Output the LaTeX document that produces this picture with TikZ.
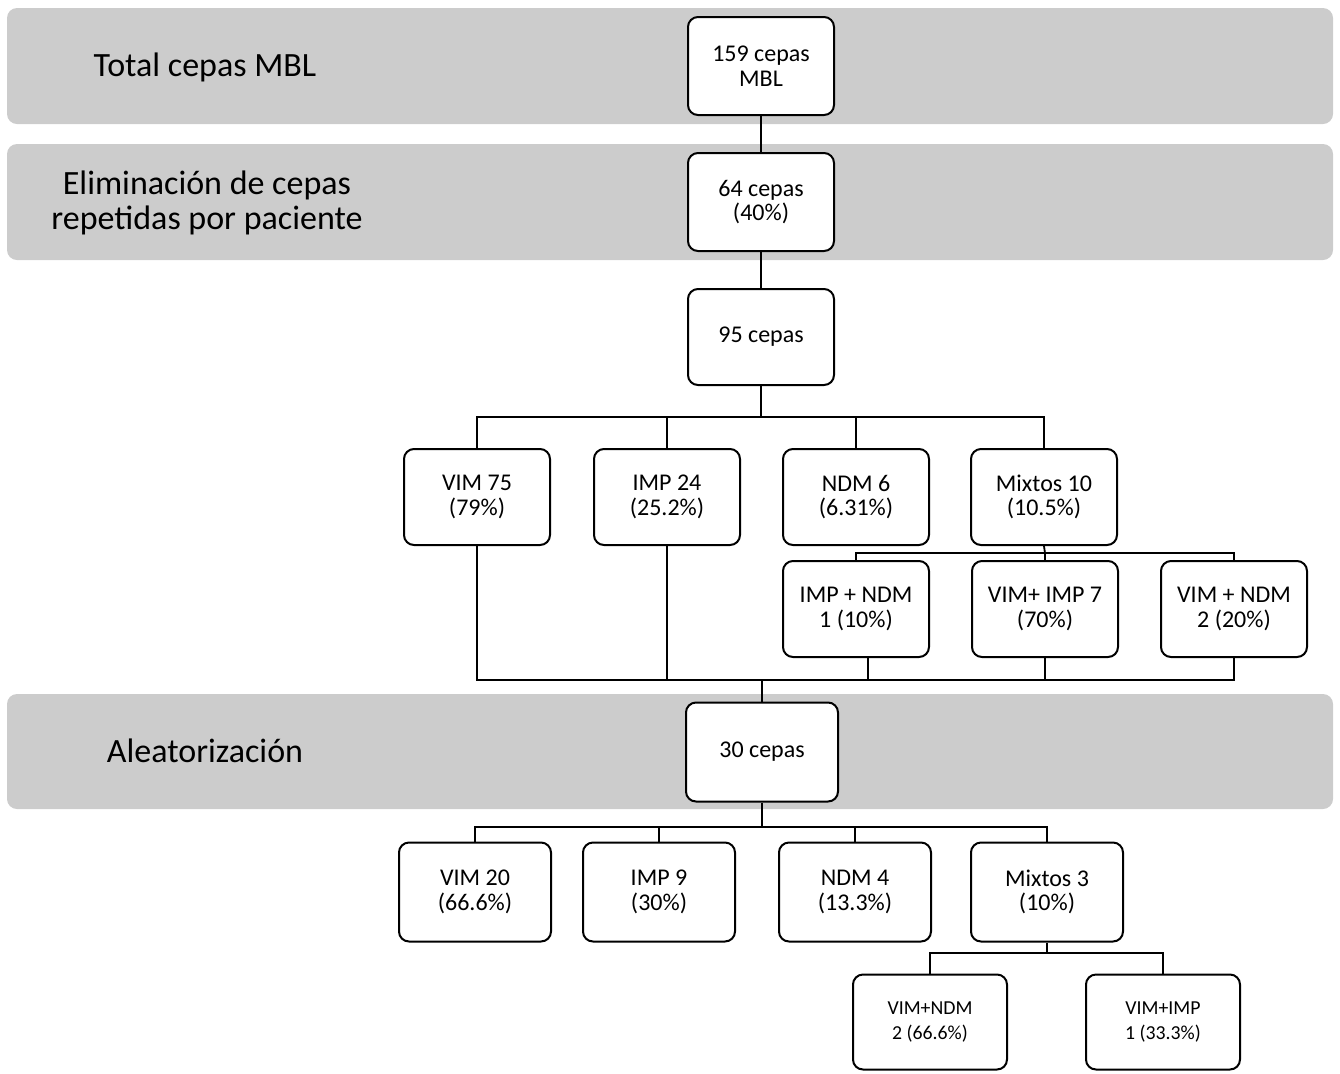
\documentclass[tikz,border=0pt]{standalone}
\usepackage{fontspec}
\setmainfont{Carlito}
\definecolor{bandgray}{RGB}{204,204,204}
\begin{document}
\begin{tikzpicture}[x=0.5pt,y=-0.5pt,
  band/.style={fill=bandgray, rounded corners=5pt},
  bandlabel/.style={align=center, font=\fontsize{17}{17.5}\selectfont},
  box/.style={draw=black, line width=1pt, fill=white, rounded corners=5pt,
    minimum width=73pt, minimum height=48pt, align=center, inner sep=1pt,
    font=\fontsize{12}{12.3}\selectfont},
  wbox/.style={box, minimum width=76pt, minimum height=49.5pt},
  sbox/.style={box, minimum width=77pt, minimum height=47.5pt,
    font=\fontsize{9.9}{12.6}\selectfont},
  conn/.style={draw=black, line width=0.9pt}]
\useasboundingbox (0,0) rectangle (1340,1073);
% bands
\fill[band] (7,8) rectangle (1333,124);
\fill[band] (7,144) rectangle (1333,260);
\fill[band] (7,694) rectangle (1333,809);
\node[bandlabel] (l1) at (205,67) {Total cepas MBL};
\node[bandlabel] (l2) at (207,203) {Eliminación de cepas\\repetidas por paciente};
\node[bandlabel] (l3) at (205,751) {Aleatorización};
% boxes
\node[box, minimum height=49pt] (b1) at (761,66) {159 cepas\\MBL};
\node[box, minimum height=49pt] (b2) at (761,202) {64 cepas\\(40\%)};
\node[box] (b3) at (761,337) {95 cepas};
\node[box] (v75) at (477,497) {VIM 75\\(79\%)};
\node[box] (i24) at (667,497) {IMP 24\\(25.2\%)};
\node[box] (n6) at (856,497) {NDM 6\\(6.31\%)};
\node[box] (m10) at (1044,497) {Mixtos 10\\(10.5\%)};
\node[box] (s1) at (856,609) {IMP + NDM\\1 (10\%)};
\node[box] (s2) at (1045,609) {VIM+ IMP 7\\(70\%)};
\node[box] (s3) at (1234,609) {VIM + NDM\\2 (20\%)};
\node[wbox] (c30) at (762,752) {30 cepas};
\node[wbox] (v20) at (475,892) {VIM 20\\(66.6\%)};
\node[wbox] (i9) at (659,892) {IMP 9\\(30\%)};
\node[wbox] (n4) at (855,892) {NDM 4\\(13.3\%)};
\node[wbox] (m3) at (1047,892) {Mixtos 3\\(10\%)};
\node[sbox] (t1) at (930,1022) {VIM+NDM\\2 (66.6\%)};
\node[sbox] (t2) at (1163,1022) {VIM+IMP\\1 (33.3\%)};
% junctions
\coordinate (j1) at (761,417);
\coordinate (j2) at (1045,553);
\coordinate (j3) at (762,680);
\coordinate (j4) at (762,827);
\coordinate (j5) at (1047,953);
% connectors
\draw[conn] (b1) -- (b2);
\draw[conn] (b2) -- (b3);
\draw[conn] (b3) -- (j1);
\draw[conn] (v75.north) |- (j1) -| (m10.north);
\draw[conn] (i24.north) -- (i24.north |- j1);
\draw[conn] (n6.north) -- (n6.north |- j1);
\draw[conn] (m10.south) -- (j2);
\draw[conn] (s1.north) |- (j2) -| (s3.north);
\draw[conn] (s2.north) -- (s2.north |- j2);
\draw[conn] (v75.south) |- (j3) -| (s3.south);
\draw[conn] (i24.south) -- (i24.south |- j3);
\draw[conn] ([xshift=6pt]s1.south) -- ([xshift=6pt]s1.south |- j3);
\draw[conn] (s2.south) -- (s2.south |- j3);
\draw[conn] (j3) -- (c30.north);
\draw[conn] (c30.south) -- (j4);
\draw[conn] (v20.north) |- (j4) -| (m3.north);
\draw[conn] (i9.north) -- (i9.north |- j4);
\draw[conn] (n4.north) -- (n4.north |- j4);
\draw[conn] (m3.south) -- (j5);
\draw[conn] (t1.north) |- (j5) -| (t2.north);
\end{tikzpicture}
\end{document}
